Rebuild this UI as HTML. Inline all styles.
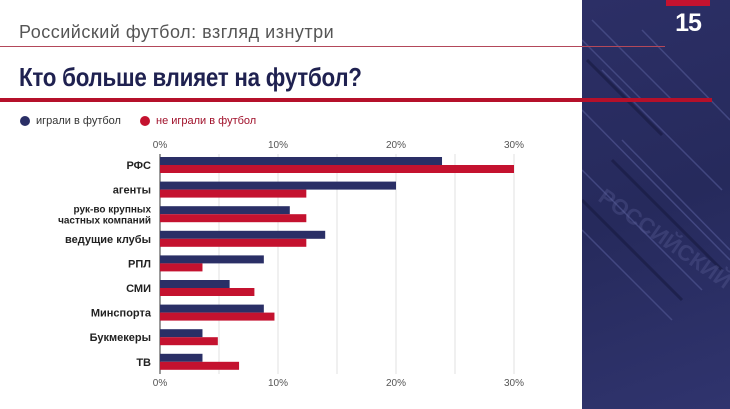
<!DOCTYPE html>
<html><head><meta charset="utf-8"><style>
body{margin:0;width:730px;height:409px;overflow:hidden;background:#fff;font-family:"Liberation Sans",sans-serif;position:relative}
.abs{position:absolute}
</style></head><body>
<div class="abs" style="left:582px;top:0;width:148px;height:409px;background:linear-gradient(160deg,#2c2f66 0%,#262a5c 50%,#30346e 100%);overflow:hidden">
<svg width="148" height="409">
<g stroke="#4a4f8a" stroke-width="1.5" fill="none" opacity="0.8">
<path d="M0 40 L60 100 M10 20 L90 100 M0 110 L148 260 M20 70 L140 190 M0 170 L120 290 M40 140 L148 250 M60 30 L148 120 M0 230 L90 320"/>
</g>
<g stroke="#1a1d45" stroke-width="3" fill="none" opacity="0.7">
<path d="M5 60 L80 135 M30 160 L140 270 M0 200 L100 300"/>
</g>
<text x="15" y="200" fill="#5c6098" font-size="22" font-weight="bold" transform="rotate(35 15 200)" font-family="Liberation Sans" opacity="0.35">РОССИЙСКИЙ</text>
</svg>
</div>
<div class="abs" style="left:666px;top:0;width:44px;height:6px;background:#c4122f"></div>
<div class="abs" style="left:666px;top:9px;width:44px;text-align:center;color:#fff;font-weight:bold;font-size:25px;letter-spacing:-1px">15</div>
<div class="abs" style="left:19px;top:22px;font-size:18px;color:#555;letter-spacing:0.5px">Российский футбол: взгляд изнутри</div>
<div class="abs" style="left:0;top:46px;width:665px;height:1px;background:#b3485a"></div>
<div class="abs" style="left:19px;top:62px;font-size:26px;font-weight:bold;color:#1f2150;transform:scaleX(0.86);transform-origin:left;letter-spacing:-0.3px">Кто больше влияет на футбол?</div>
<div class="abs" style="left:0;top:98px;width:712px;height:4px;background:#b5102a"></div>
<div class="abs" style="left:20px;top:115px;font-size:11px;color:#333;display:flex;align-items:center"><span style="width:10px;height:10px;border-radius:50%;background:#2a2f66;margin-right:6px;display:inline-block"></span>играли в футбол</div>
<div class="abs" style="left:140px;top:115px;font-size:11px;color:#a0102a;display:flex;align-items:center"><span style="width:10px;height:10px;border-radius:50%;background:#c4122f;margin-right:6px;display:inline-block"></span>не играли в футбол</div>
<svg class="abs" style="left:0;top:0" width="582" height="409" id="chart"></svg>
<script>
const categories=["РФС","агенты","рук-во крупных|частных компаний","ведущие клубы","РПЛ","СМИ","Минспорта","Букмекеры","ТВ"];
const played=[23.9,20,11,14,8.8,5.9,8.8,3.6,3.6];
const notPlayed=[30,12.4,12.4,12.4,3.6,8,9.7,4.9,6.7];
const ticks=[0,10,20,30];
const grid=[5,10,15,20,25,30];
const svg=document.getElementById('chart');
const NS="http://www.w3.org/2000/svg";
const x=v=>160+v*11.8;
const yc=i=>165+i*24.6;
function el(t,a){const e=document.createElementNS(NS,t);for(const k in a)e.setAttribute(k,a[k]);svg.appendChild(e);return e;}
grid.forEach(g=>{const l=el('line',{x1:x(g),x2:x(g),y1:154,y2:374,stroke:'#e2e2e2','stroke-width':1});

});
const ax=el('line',{x1:160,x2:160,y1:154,y2:374,stroke:'#333','stroke-width':1});


ticks.forEach(t=>{[148,386].forEach((yy,j)=>{const tx=el('text',{x:x(t),y:yy,'text-anchor':'middle','font-size':10,fill:'#555','font-family':'Liberation Sans'});tx.textContent=t+'%';

});});
categories.forEach((c,i)=>{
const b1=el('rect',{x:160,y:yc(i)-8,width:x(played[i])-160,height:8,fill:'#2a2f66'});


const b2=el('rect',{x:160,y:yc(i),width:x(notPlayed[i])-160,height:8,fill:'#c4122f'});


const parts=c.split('|');
parts.forEach((p,k)=>{const t=el('text',{x:151,y:yc(i)+4+(k-(parts.length-1)/2)*11,'text-anchor':'end','font-size':parts.length>1?10:11,'font-weight':'bold',fill:'#222','font-family':'Liberation Sans'});t.textContent=p;

});
});
</script>
</body></html>
